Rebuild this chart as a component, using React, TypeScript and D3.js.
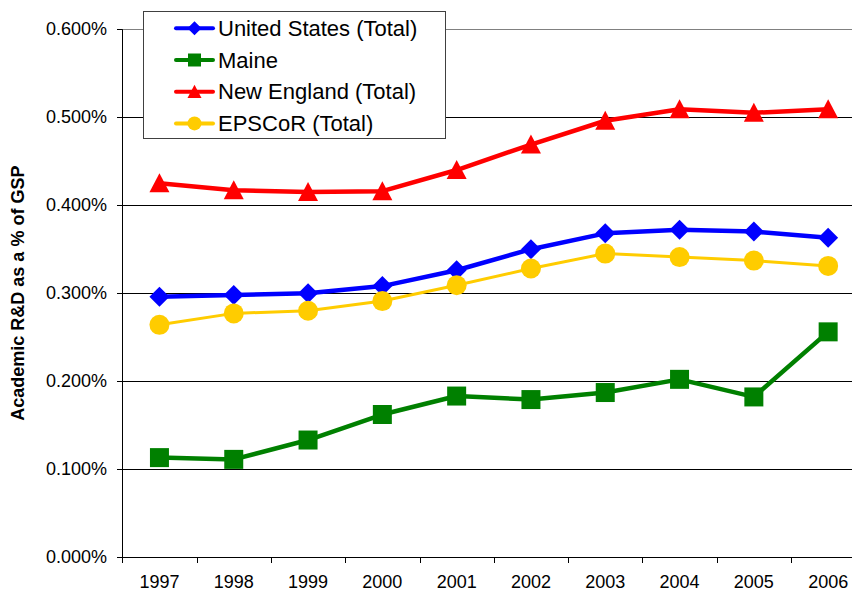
import React, { useEffect, useRef } from 'react'
import * as d3 from 'd3'

const years = ['1997', '1998', '1999', '2000', '2001', '2002', '2003', '2004', '2005', '2006']
const unitedStates = [0.296, 0.298, 0.3, 0.308, 0.326, 0.35, 0.368, 0.372, 0.37, 0.363]
const maine = [0.113, 0.111, 0.133, 0.162, 0.183, 0.179, 0.187, 0.202, 0.182, 0.256]
const newEngland = [0.425, 0.417, 0.415, 0.416, 0.44, 0.469, 0.496, 0.509, 0.505, 0.509]
const epscor = [0.264, 0.277, 0.28, 0.291, 0.309, 0.328, 0.345, 0.341, 0.337, 0.331]
const yTicks = [0, 0.1, 0.2, 0.3, 0.4, 0.5, 0.6]

type Shape = 'diamond' | 'square' | 'triangle' | 'circle'
interface ISeries {
  name: string
  values: number[]
  color: string
  shape: Shape
  width: number
}

const series: ISeries[] = [
  { name: 'United States (Total)', values: unitedStates, color: '#0000ff', shape: 'diamond', width: 4.5 },
  { name: 'Maine', values: maine, color: '#008000', shape: 'square', width: 4.5 },
  { name: 'New England (Total)', values: newEngland, color: '#ff0000', shape: 'triangle', width: 4.5 },
  { name: 'EPSCoR (Total)', values: epscor, color: '#ffcc00', shape: 'circle', width: 3 }
]

const W = 852
const H = 592
const margin = { top: 29.3, left: 122.3, bottom: 35 }
const step = 74.3
const font = '"Liberation Sans", Arial, sans-serif'

const markerPath = (shape: Shape, s: number) => {
  const h = s / 2
  if (shape === 'diamond') return `M0,${-h}L${h},0L0,${h}L${-h},0Z`
  if (shape === 'square') return `M${-h},${-h}H${h}V${h}H${-h}Z`
  if (shape === 'triangle') return `M0,${-h}L${h},${h * 0.9}L${-h},${h * 0.9}Z`
  return d3.arc()({ innerRadius: 0, outerRadius: h, startAngle: 0, endAngle: 2 * Math.PI }) as string
}

const Chart = () => {
  const ref = useRef<SVGSVGElement>(null)

  useEffect(() => {
    const svg = d3.select(ref.current)
    svg.selectAll('*').remove()

    const plotBottom = 557
    const x = d3
      .scaleBand()
      .domain(years)
      .range([margin.left, margin.left + step * years.length])
    const y = d3.scaleLinear().domain([0, 0.6]).range([plotBottom, margin.top])
    const cx = (yr: string) => (x(yr) as number) + x.bandwidth() / 2

    // gridlines
    svg
      .append('g')
      .selectAll('line')
      .data(yTicks.slice(1))
      .enter()
      .append('line')
      .attr('x1', margin.left)
      .attr('x2', W)
      .attr('y1', d => Math.round(y(d)) + 0.5)
      .attr('y2', d => Math.round(y(d)) + 0.5)
      .attr('stroke', d => (d === 0.6 ? '#808080' : '#000'))
      .attr('stroke-width', 1)

    // y axis
    const yAxis = svg.append('g')
    yAxis
      .append('line')
      .attr('x1', 122.5)
      .attr('x2', 122.5)
      .attr('y1', y(0.6))
      .attr('y2', plotBottom)
      .attr('stroke', '#000')
    yAxis
      .selectAll('line.tick')
      .data(yTicks)
      .enter()
      .append('line')
      .attr('class', 'tick')
      .attr('x1', 117)
      .attr('x2', 122.5)
      .attr('y1', d => Math.round(y(d)) + 0.5)
      .attr('y2', d => Math.round(y(d)) + 0.5)
      .attr('stroke', '#000')
    yAxis
      .selectAll('text')
      .data(yTicks)
      .enter()
      .append('text')
      .attr('x', 107)
      .attr('y', d => y(d) + 6)
      .attr('text-anchor', 'end')
      .attr('font-family', font)
      .attr('font-size', 18)
      .attr('fill', '#000')
      .text(d => d3.format('.3f')(d) + '%')

    // x axis
    const xAxis = svg.append('g')
    xAxis
      .append('line')
      .attr('x1', margin.left)
      .attr('x2', W)
      .attr('y1', plotBottom + 0.5)
      .attr('y2', plotBottom + 0.5)
      .attr('stroke', '#000')
    const bounds = years.map(yr => x(yr) as number).concat([margin.left + step * years.length])
    xAxis
      .selectAll('line.tick')
      .data(bounds)
      .enter()
      .append('line')
      .attr('class', 'tick')
      .attr('x1', d => Math.round(d) + 0.5)
      .attr('x2', d => Math.round(d) + 0.5)
      .attr('y1', plotBottom)
      .attr('y2', plotBottom + 6)
      .attr('stroke', '#000')
    xAxis
      .selectAll('text')
      .data(years)
      .enter()
      .append('text')
      .attr('x', d => cx(d))
      .attr('y', 588)
      .attr('text-anchor', 'middle')
      .attr('font-family', font)
      .attr('font-size', 18)
      .attr('fill', '#000')
      .text(d => d)

    // y axis title
    svg
      .append('text')
      .attr('transform', `translate(24, ${(margin.top + plotBottom) / 2}) rotate(-90)`)
      .attr('text-anchor', 'middle')
      .attr('font-family', font)
      .attr('font-weight', 'bold')
      .attr('font-size', 18)
      .attr('fill', '#000')
      .text('Academic R&D as a % of GSP')

    // series
    const line = d3
      .line<number>()
      .x((_, i) => cx(years[i]))
      .y(d => y(d))
    series.forEach(s => {
      const g = svg.append('g')
      g.append('path')
        .attr('d', line(s.values))
        .attr('fill', 'none')
        .attr('stroke', s.color)
        .attr('stroke-width', s.width)
        .attr('stroke-linejoin', 'round')
      g.selectAll('path.marker')
        .data(s.values)
        .enter()
        .append('path')
        .attr('class', 'marker')
        .attr('d', markerPath(s.shape, s.shape === 'square' ? 19 : 20))
        .attr('transform', (d, i) => `translate(${cx(years[i])},${y(d)})`)
        .attr('fill', s.color)
    })

    // legend
    const legend = svg.append('g')
    legend
      .append('rect')
      .attr('x', 143.5)
      .attr('y', 11.5)
      .attr('width', 302)
      .attr('height', 127)
      .attr('fill', '#fff')
      .attr('stroke', '#404040')
    series.forEach((s, i) => {
      const ly = 28.3 + i * 31.7
      legend
        .append('line')
        .attr('x1', 176)
        .attr('x2', 213)
        .attr('y1', ly)
        .attr('y2', ly)
        .attr('stroke', s.color)
        .attr('stroke-width', 4)
        .attr('stroke-linecap', 'round')
      legend
        .append('path')
        .attr('d', markerPath(s.shape, s.shape === 'square' ? 13 : 14))
        .attr('transform', `translate(194.5,${ly})`)
        .attr('fill', s.color)
      legend
        .append('text')
        .attr('x', 218)
        .attr('y', ly + 7.5)
        .attr('font-family', font)
        .attr('font-size', 22)
        .attr('fill', '#000')
        .text(s.name)
    })
  }, [])

  return (
    <svg
      ref={ref}
      width={W}
      height={H}
      style={{ position: 'absolute', left: 0, top: 0, background: '#fff' }}
    />
  )
}

const App = () => {
  return (
    <div>
      <Chart />
    </div>
  )
}

export default App
